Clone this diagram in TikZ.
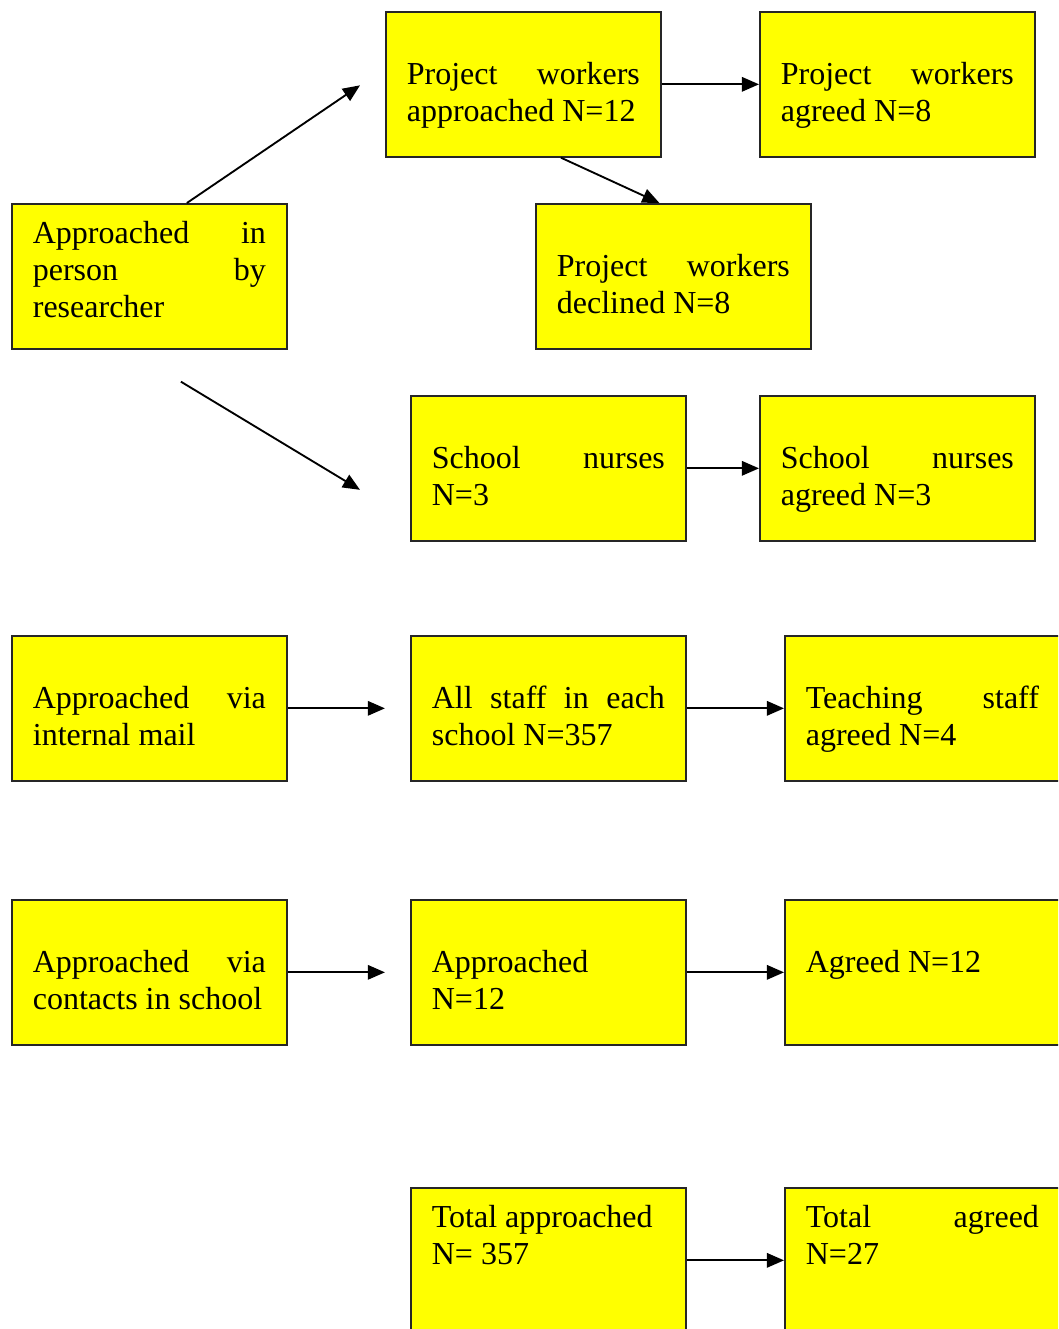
\documentclass[tikz,border=0pt]{standalone}
\usepackage{fontspec}
\setmainfont{Liberation Serif}
\usetikzlibrary{arrows.meta,calc}
\definecolor{boxyellow}{RGB}{255,255,0}

\begin{document}
\begin{tikzpicture}[x=0.375pt, y=-0.375pt]
                \tikzstyle{stage} = [shape=rectangle, fill=boxyellow, draw=black!85, line width=0.6pt, anchor=north west, minimum width=103.1pt, minimum height=54.4pt, text width=87.4pt, inner xsep=7.9pt, inner ysep=0pt, align=justify, font=\fontsize{12pt}{13.9pt}\selectfont];
                \tikzstyle{lowtext} = [text height=27.1pt, text depth=27.3pt];
                \tikzstyle{hightext} = [text height=15pt, text depth=39.4pt];
                \tikzstyle{link} = [-{Triangle[length=6.4pt,width=5.4pt]}, line width=0.7pt];

                \clip (0,0) rectangle (1058,1329);

                % recruitment in person
                \node[stage, hightext](person) at (11,203) {Approached in\linebreak person by\linebreak researcher};
                \node[stage, lowtext](pwapp) at (385,11) {Project workers\linebreak approached N=12};
                \node[stage, lowtext](pwagree) at (759,11) {Project workers\linebreak agreed N=8};
                \node[stage, lowtext](pwdecl) at (535,203) {Project workers\linebreak declined N=8};
                \node[stage, lowtext](nurses) at (410,395) {School nurses\linebreak N=3};
                \node[stage, lowtext](nagree) at (759,395) {School nurses\linebreak agreed N=3};

                % internal mail
                \node[stage, lowtext](mail) at (11,635) {Approached via\linebreak internal mail};
                \node[stage, lowtext](allstaff) at (410,635) {All staff in each\linebreak school N=357};
                \node[stage, lowtext](teach) at (784,635) {Teaching staff\linebreak agreed N=4};

                % contacts in school
                \node[stage, lowtext](contacts) at (11,899) {Approached via\linebreak contacts in school};
                \node[stage, lowtext](capp) at (410,899) {Approached\newline N=12};
                \node[stage, lowtext](cagree) at (784,899) {Agreed N=12};

                % totals
                \node[stage, hightext](totapp) at (410,1187) {Total approached\newline N= 357};
                \node[stage, hightext](totagree) at (784,1187) {Total agreed\linebreak N=27};

                \draw[link] ($(person.north)+(37.5,0)$) -- ($(pwapp.west)+(-25,1)$);
                \draw[link] ($(person.south)+(31.5,32)$) -- ($(nurses.west)+(-50,21.5)$);
                \draw[link] (pwapp.east) -- (pwagree.west);
                \draw[link] ($(pwapp.south)+(37.5,0)$) -- ($(pwdecl.north)+(-14,0)$);
                \draw[link] (nurses.east) -- (nagree.west);
                \draw[link, shorten >=9.4pt] (mail.east) -- (allstaff.west);
                \draw[link] (allstaff.east) -- (teach.west);
                \draw[link, shorten >=9.4pt] (contacts.east) -- (capp.west);
                \draw[link] (capp.east) -- (cagree.west);
                \draw[link] (totapp.east) -- (totagree.west);
            \end{tikzpicture}
\end{document}
